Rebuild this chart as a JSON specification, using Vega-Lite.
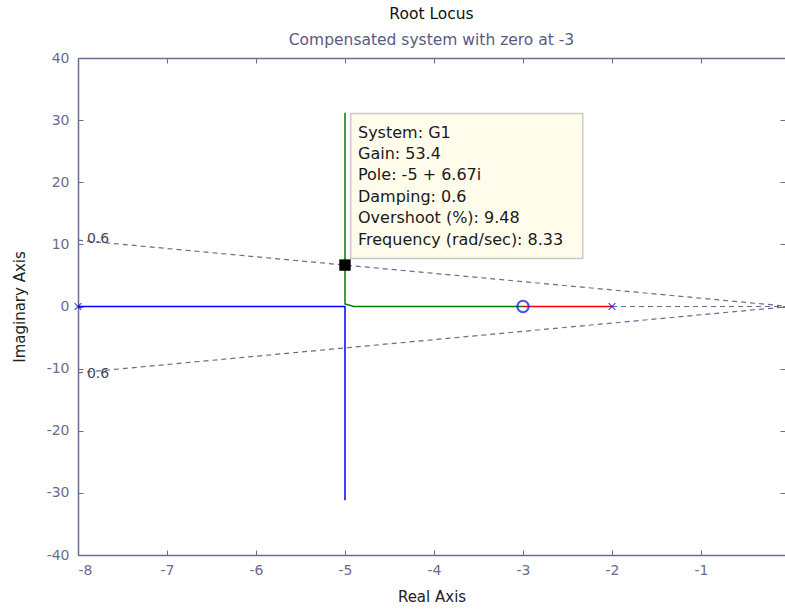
{
  "$schema": "https://vega.github.io/schema/vega-lite/v6.json",
  "width": 707,
  "height": 497,
  "autosize": {"type": "none"},
  "padding": {"left": 78, "top": 58, "right": 0, "bottom": 54},
  "background": "white",
  "config": {
    "font": "DejaVu Sans",
    "view": {"stroke": null},
    "axis": {
      "domainColor": "#6b6b8e",
      "tickColor": "#6b6b8e",
      "labelColor": "#6b6b8e",
      "titleColor": "#222222",
      "labelFont": "DejaVu Sans",
      "titleFont": "DejaVu Sans",
      "labelFontSize": 14,
      "titleFontSize": 15,
      "titleFontWeight": "normal",
      "grid": false,
      "tickSize": -5,
      "domainWidth": 1.5,
      "labelExpr": "toString(datum.value)"
    }
  },
  "title": {
    "text": "Root Locus",
    "subtitle": "Compensated system with zero at -3",
    "anchor": "middle",
    "fontSize": 15.5,
    "fontWeight": "normal",
    "color": "#111111",
    "subtitleFontSize": 15.5,
    "subtitleColor": "#5a5a82",
    "subtitlePadding": 10,
    "offset": 3,
    "font": "DejaVu Sans",
    "subtitleFont": "DejaVu Sans"
  },
  "datasets": {
    "grid": [
      {"g": "up", "re": 0, "im": 0},
      {"g": "up", "re": -8, "im": 10.67},
      {"g": "down", "re": 0, "im": 0},
      {"g": "down", "re": -8, "im": -10.67},
      {"g": "real", "re": -2, "im": 0},
      {"g": "real", "re": 0, "im": 0}
    ],
    "locus": [
      {"branch": "b", "k": 0, "re": -8, "im": 0},
      {"branch": "b", "k": 1, "re": -5, "im": 0},
      {"branch": "b", "k": 2, "re": -5, "im": -31.2},
      {"branch": "g", "k": 0, "re": -5, "im": 31.2},
      {"branch": "g", "k": 1, "re": -5, "im": 0.4},
      {"branch": "g", "k": 2, "re": -4.9, "im": 0},
      {"branch": "g", "k": 3, "re": -3, "im": 0},
      {"branch": "r", "k": 0, "re": -3, "im": 0},
      {"branch": "r", "k": 1, "re": -2, "im": 0}
    ],
    "poles": [
      {"re": -8, "im": 0},
      {"re": -2, "im": 0},
      {"re": 0, "im": 0}
    ],
    "zeros": [
      {"re": -3, "im": 0}
    ],
    "box": [
      {"x1": -4.936, "x2": -2.329, "y1": 31.08, "y2": 7.73}
    ],
    "tip": [
      {"re": -4.854, "im": 28.0, "t": "System: G1"},
      {"re": -4.854, "im": 24.6, "t": "Gain: 53.4"},
      {"re": -4.854, "im": 21.1, "t": "Pole: -5 + 6.67i"},
      {"re": -4.854, "im": 17.6, "t": "Damping: 0.6"},
      {"re": -4.854, "im": 14.2, "t": "Overshoot (%): 9.48"},
      {"re": -4.854, "im": 10.7, "t": "Frequency (rad/sec): 8.33"}
    ],
    "marker": [
      {"re": -5, "im": 6.67}
    ],
    "zeta": [
      {"re": -7.9, "im": 10.8, "t": "0.6"},
      {"re": -7.9, "im": -10.8, "t": "0.6"}
    ]
  },
  "resolve": {"axis": {"x": "independent", "y": "independent"}},
  "layer": [
    {
      "data": {"name": "grid"},
      "mark": {"type": "line", "strokeDash": [5, 4], "strokeWidth": 1.2, "color": "#6b6b8e", "clip": true},
      "encoding": {
        "x": {"field": "re", "type": "quantitative", "scale": {"domain": [-8, -0.056], "nice": false, "zero": false},
              "axis": {"orient": "bottom", "title": "Real Axis", "values": [-8, -7, -6, -5, -4, -3, -2, -1], "labelPadding": 13, "titlePadding": 12}},
        "y": {"field": "im", "type": "quantitative", "scale": {"domain": [-40, 40], "nice": false, "zero": false},
              "axis": {"orient": "left", "title": "Imaginary Axis", "values": [-40, -30, -20, -10, 0, 10, 20, 30, 40], "labelPadding": 14, "titlePadding": 19}},
        "detail": {"field": "g"}
      }
    },
    {
      "data": {"name": "locus"},
      "mark": {"type": "line", "strokeWidth": 1.5},
      "encoding": {
        "x": {"field": "re", "type": "quantitative", "axis": {"orient": "top", "title": null, "labels": false, "values": [-8, -7, -6, -5, -4, -3, -2, -1]}},
        "y": {"field": "im", "type": "quantitative", "axis": {"orient": "right", "title": null, "labels": false, "domain": false, "values": [-30, -20, -10, 0, 10, 20, 30]}},
        "color": {"field": "branch", "type": "nominal", "scale": {"domain": ["b", "g", "r"], "range": ["#0000ff", "#008000", "#ff0000"]}, "legend": null},
        "order": {"field": "k", "type": "quantitative"}
      }
    },
    {
      "data": {"name": "poles"},
      "mark": {"type": "point", "shape": "M-1,-1L1,1M-1,1L1,-1", "filled": false, "color": "#0000ff", "size": 45, "strokeWidth": 1.3},
      "encoding": {
        "x": {"field": "re", "type": "quantitative", "axis": null},
        "y": {"field": "im", "type": "quantitative", "axis": null}
      }
    },
    {
      "data": {"name": "zeros"},
      "mark": {"type": "point", "shape": "circle", "filled": false, "color": "#0000ff", "size": 130, "strokeWidth": 2},
      "encoding": {
        "x": {"field": "re", "type": "quantitative", "axis": null},
        "y": {"field": "im", "type": "quantitative", "axis": null}
      }
    },
    {
      "data": {"name": "box"},
      "mark": {"type": "rect", "fill": "#fffcec", "stroke": "#c8c8c8", "strokeWidth": 1.5},
      "encoding": {
        "x": {"field": "x1", "type": "quantitative", "axis": null},
        "x2": {"field": "x2"},
        "y": {"field": "y1", "type": "quantitative", "axis": null},
        "y2": {"field": "y2"}
      }
    },
    {
      "data": {"name": "tip"},
      "mark": {"type": "text", "align": "left", "baseline": "middle", "fontSize": 16, "color": "#1a1a1a", "font": "DejaVu Sans"},
      "encoding": {
        "x": {"field": "re", "type": "quantitative", "axis": null},
        "y": {"field": "im", "type": "quantitative", "axis": null},
        "text": {"field": "t"}
      }
    },
    {
      "data": {"name": "marker"},
      "mark": {"type": "point", "shape": "square", "filled": true, "color": "#000000", "size": 130, "opacity": 1},
      "encoding": {
        "x": {"field": "re", "type": "quantitative", "axis": null},
        "y": {"field": "im", "type": "quantitative", "axis": null}
      }
    },
    {
      "data": {"name": "zeta"},
      "mark": {"type": "text", "align": "left", "baseline": "middle", "fontSize": 14, "color": "#444455", "font": "DejaVu Sans"},
      "encoding": {
        "x": {"field": "re", "type": "quantitative", "axis": null},
        "y": {"field": "im", "type": "quantitative", "axis": null},
        "text": {"field": "t"}
      }
    }
  ]
}
